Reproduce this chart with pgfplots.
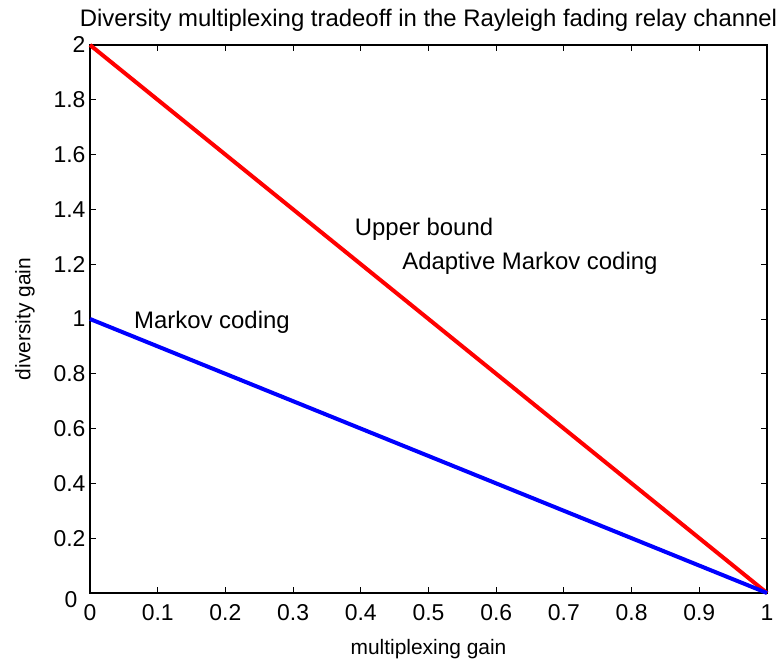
\documentclass[border=0pt]{standalone}
\usepackage{fontspec}
\setmainfont{Liberation Sans}
\usepackage{pgfplots}
\pgfplotsset{compat=1.18}

\begin{document}
\begin{tikzpicture}[x=1bp,y=1bp]
\path (0,0) rectangle (781,664);
\begin{axis}[at={(90bp,71bp)},anchor=south west,scale only axis,
  width=677bp,height=548bp,
  xmin=0,xmax=1,ymin=0,ymax=2,
  xtick={0,0.1,...,1},ytick={0,0.2,...,2},
  xticklabels={0,0.1,0.2,0.3,0.4,0.5,0.6,0.7,0.8,0.9,1},
  yticklabels={{},0.2,0.4,0.6,0.8,1,1.2,1.4,1.6,1.8,2},
  tick align=inside,major tick length=6bp,
  axis line style={line width=1.3bp},
  every tick/.style={black,line width=0.9bp},
  tick label style={font=\fontsize{23}{26}\selectfont},
  label style={font=\fontsize{21}{24}\selectfont},
  title style={font=\fontsize{24}{27}\selectfont,yshift=4bp},
  title={Diversity multiplexing tradeoff in the Rayleigh fading relay channel},
  xlabel={multiplexing gain},ylabel={diversity gain},
  xticklabel style={yshift=-8bp},
  yticklabel style={xshift=-1bp},
  xlabel style={yshift=-12bp},ylabel style={yshift=12bp},
  clip=false]
\addplot[red,line width=4bp] coordinates {(0,2) (1,0)};
\addplot[blue,line width=4bp] coordinates {(0,1) (1,0)};
% y tick "0" sits below-left of the corner, as in the original
\node[inner sep=0,xshift=-19bp,yshift=-7bp,font=\fontsize{23}{26}\selectfont] at (axis cs:0,0) {0};
\node[anchor=west,inner sep=0,font=\fontsize{24}{27}\selectfont] at (axis cs:0.391,1.328) {Upper bound};
\node[anchor=west,inner sep=0,font=\fontsize{24}{27}\selectfont] at (axis cs:0.461,1.204) {Adaptive Markov coding};
\node[anchor=west,inner sep=0,font=\fontsize{24}{27}\selectfont] at (axis cs:0.065,0.989) {Markov coding};
\end{axis}
\end{tikzpicture}
\end{document}
